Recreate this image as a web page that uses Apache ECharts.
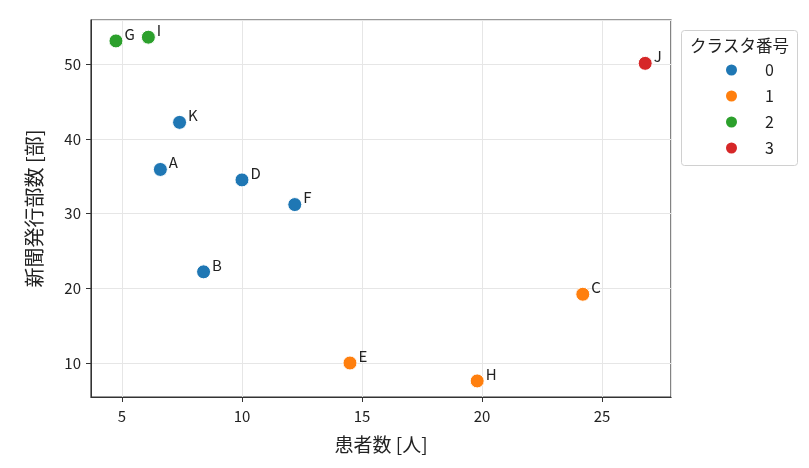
<!DOCTYPE html>
<html>
<head>
<meta charset="utf-8">
<script src="https://cdn.jsdelivr.net/npm/echarts@6/dist/echarts.min.js"></script>
<style>html,body{margin:0;padding:0;background:#fff}#c{width:809px;height:468px}</style>
</head>
<body>
<div id="c"></div>
<script>
const names    = ['A','B','C','D','E','F','G','H','I','J','K'];
const patients = [6.6, 8.4, 24.2, 10.0, 14.5, 12.2, 4.75, 19.8, 6.1, 26.8, 7.4];
const papers   = [35.9, 22.2, 19.2, 34.5, 10.0, 31.2, 53.1, 7.6, 53.6, 50.1, 42.2];
const clusters = [0, 0, 1, 0, 1, 0, 2, 1, 2, 3, 0];
const clusterNames = ['0','1','2','3'];
const colors = ['#1f77b4','#ff7f0e','#2ca02c','#d62728'];
const FONT = '"Noto Sans CJK JP", "Noto Sans", sans-serif';

const series = clusterNames.map((cn, ci) => ({
  name: cn,
  type: 'scatter',
  symbolSize: 14,
  itemStyle: {color: colors[ci], borderColor: '#fff', borderWidth: 1, opacity: 1},
  label: {
    show: true, position: 'right', distance: 1, offset: [0, -7],
    formatter: p => p.data[2], color: '#222', fontSize: 15, fontFamily: FONT
  },
  data: names.map((n, i) => clusters[i] === ci ? [patients[i], papers[i], n] : null).filter(d => d)
}));

const chart = echarts.init(document.getElementById('c'));
chart.setOption({
  animation: false,
  grid: {left: 91, right: 138, top: 20, bottom: 71, show: true, borderColor: '#333', borderWidth: 1.2, backgroundColor: 'transparent'},
  xAxis: {
    type: 'value', min: 3.71, max: 27.875, splitNumber: 5,
    name: '患者数 [人]', nameLocation: 'middle', nameGap: 38,
    nameTextStyle: {fontSize: 19, color: '#222', fontFamily: FONT},
    axisLine: {show: true, lineStyle: {color: '#333'}},
    axisTick: {show: true, length: 5, lineStyle: {color: '#333'}},
    axisLabel: {showMinLabel: false, showMaxLabel: false, fontSize: 15, color: '#222', margin: 12, fontFamily: FONT},
    splitLine: {show: true, lineStyle: {color: '#e6e6e6', width: 1}}
  },
  yAxis: {
    type: 'value', min: 5.45, max: 55.9, splitNumber: 5,
    name: '新聞発行部数 [部]', nameLocation: 'middle', nameGap: 47,
    nameTextStyle: {fontSize: 20, color: '#222', fontFamily: FONT},
    axisLine: {show: true, lineStyle: {color: '#333'}},
    axisTick: {show: true, length: 5, lineStyle: {color: '#333'}},
    axisLabel: {showMinLabel: false, showMaxLabel: false, fontSize: 15, color: '#222', margin: 10, fontFamily: FONT},
    splitLine: {show: true, lineStyle: {color: '#e6e6e6', width: 1}}
  },
  graphic: [{
    type: 'rect', left: 681, top: 30, z: -1,
    shape: {width: 116, height: 135, r: 3},
    style: {fill: '#fff', stroke: '#d0d0d0', lineWidth: 1}
  }],
  title: {
    text: 'クラスタ番号', left: 685, top: 32,
    textStyle: {fontSize: 16.5, fontWeight: 'normal', color: '#222', fontFamily: FONT}
  },
  legend: {
    orient: 'vertical', left: 719, top: 56, itemGap: 8,
    itemWidth: 13, itemHeight: 13, icon: 'circle',
    textStyle: {fontSize: 16, color: '#222', padding: [0, 0, 0, 22], fontFamily: FONT, lineHeight: 18},
    data: clusterNames
  },
  series: series
});
</script>
</body>
</html>
